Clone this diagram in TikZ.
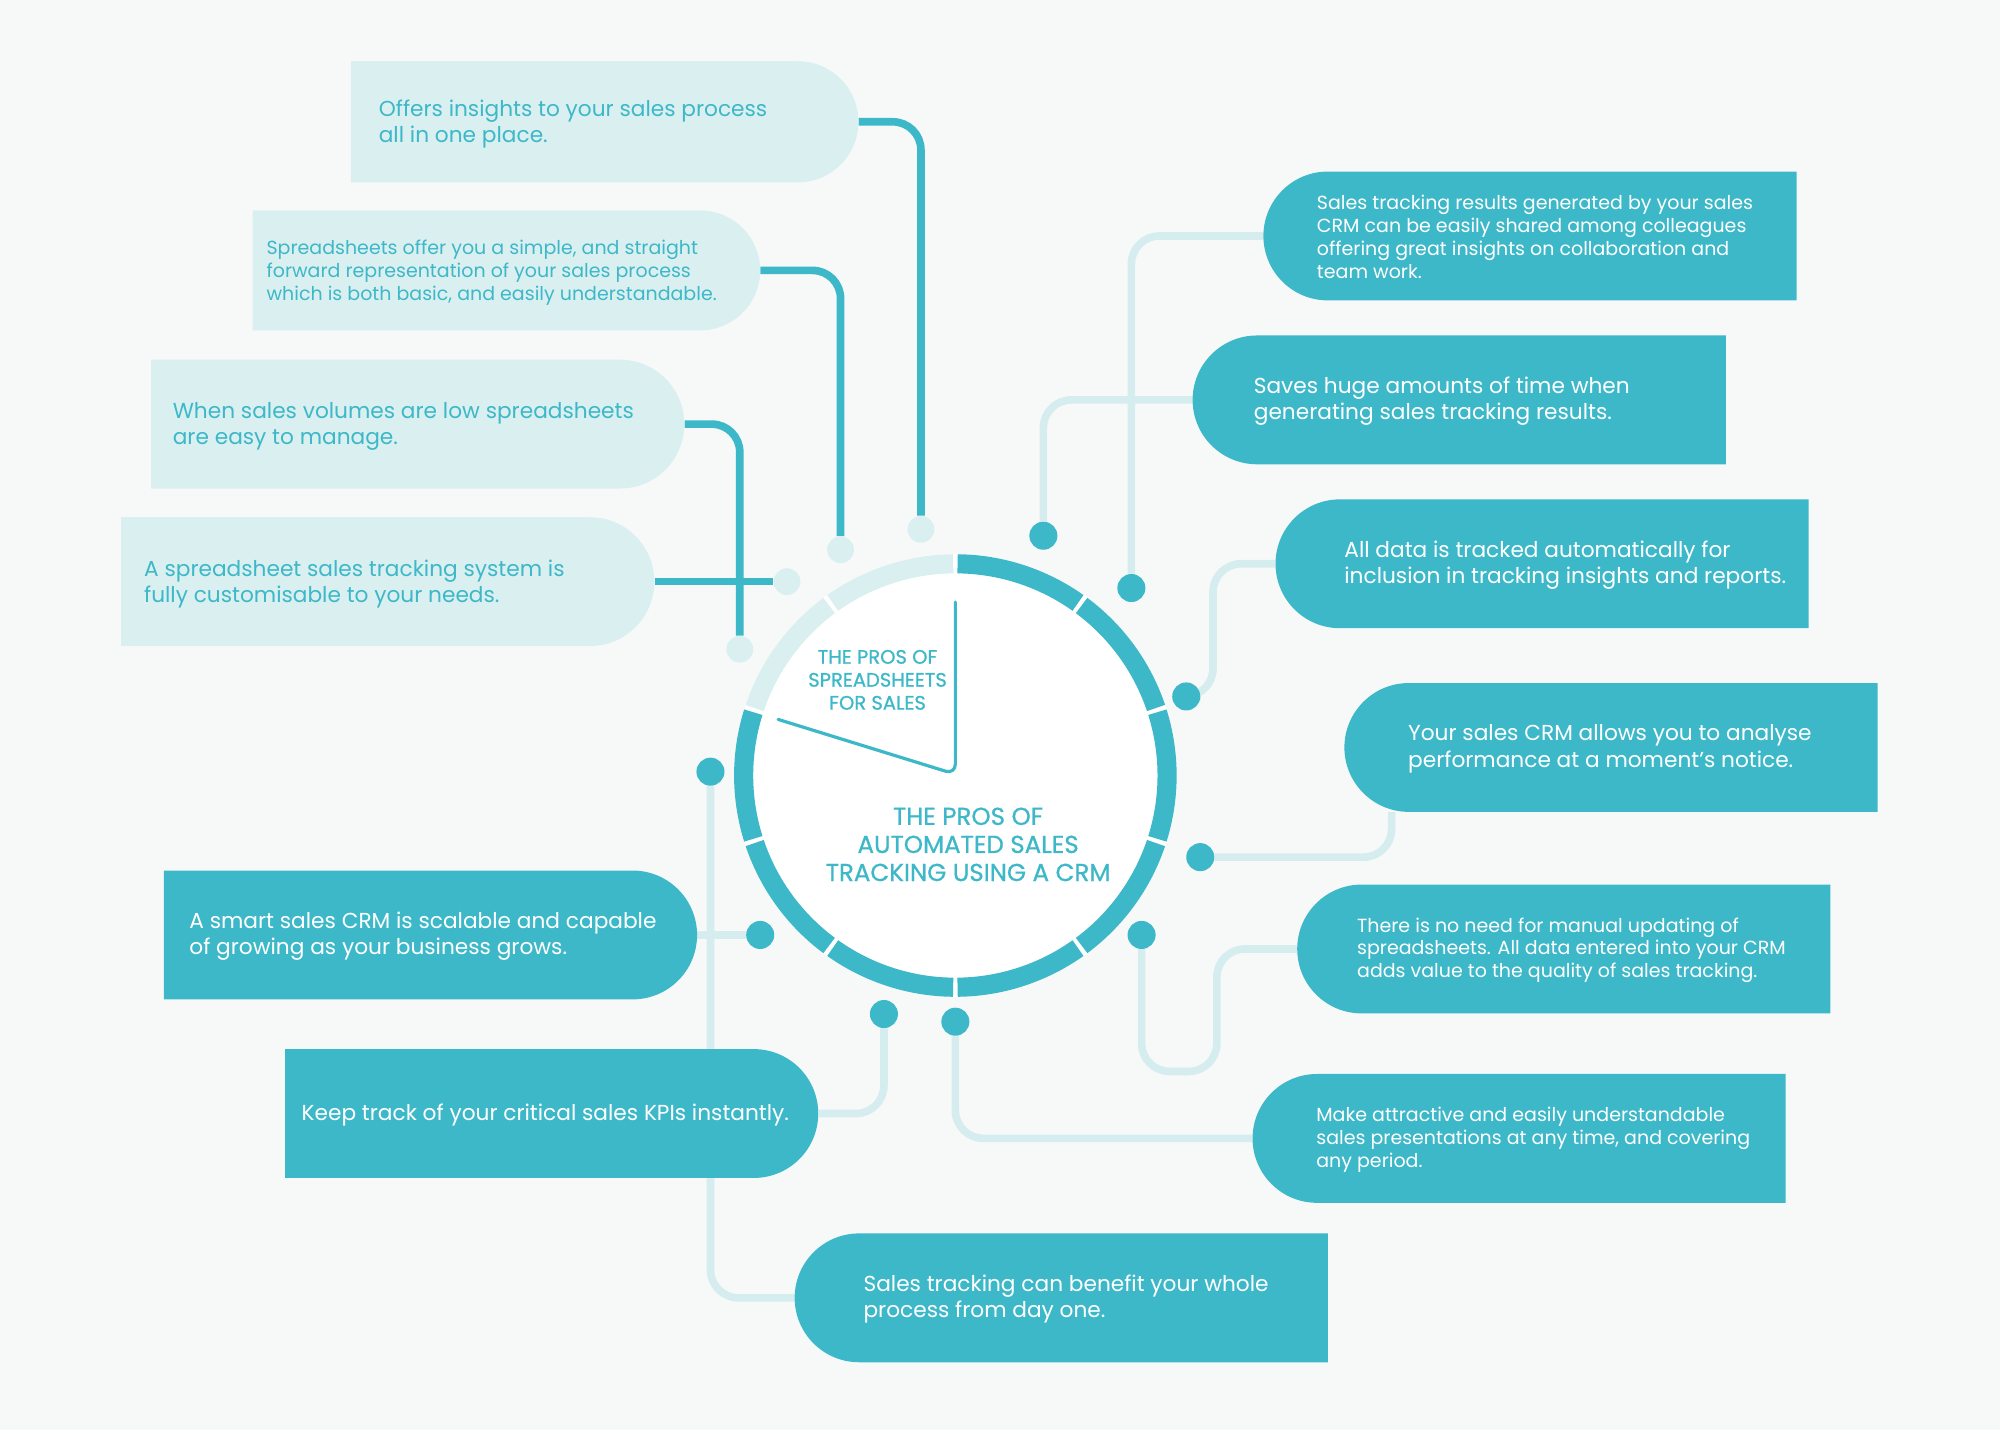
\documentclass[tikz,border=0pt]{standalone}
\usepackage{fontspec}
\setmainfont{Poppins}
\newfontfamily\hubfont[FakeBold=0.8]{Poppins}
\usetikzlibrary{calc,positioning,shapes.misc}
\definecolor{crmteal}{HTML}{3DB8C8}
\definecolor{sheetpale}{HTML}{DAEFF0}
\definecolor{linepale}{HTML}{D5EDEF}
\definecolor{pagebg}{HTML}{F7F9F9}
\pgfdeclarelayer{back}
\pgfsetlayers{back,main}
\def\ringarc[#1](#2:#3){\draw[#1] ($(hub)+({166*cos(#2)},{166*sin(#2)})$) arc (#2:#3:166);}
\tikzset{
	sheetbox/.style={rounded rectangle, rounded rectangle west arc=none, fill=sheetpale, inner sep=0pt, minimum width=418pt, minimum height=101pt},
	crmbox/.style={rounded rectangle, rounded rectangle east arc=none, fill=crmteal, inner sep=0pt, minimum width=418pt, minimum height=101pt},
	crmboxr/.style={rounded rectangle, rounded rectangle west arc=none, fill=crmteal, inner sep=0pt, minimum width=418pt, minimum height=101pt},
	sheettext/.style={anchor=west, inner sep=0pt, align=left, text=crmteal, yshift=-2pt},
	crmtext/.style={anchor=west, inner sep=0pt, align=left, text=white, yshift=-1pt},
	bigtext/.style={font=\fontsize{17}{20.5}\selectfont},
	smalltext/.style={font=\fontsize{14.9}{18}\selectfont},
	crmdot/.style={circle, fill=crmteal, inner sep=0pt, minimum size=22pt},
	sheetdot/.style={circle, fill=sheetpale, inner sep=0pt, minimum size=21pt},
	sheetlink/.style={draw=crmteal, line width=6pt, rounded corners=22pt},
	crmlink/.style={draw=linepale, line width=6pt, rounded corners=22pt},
	ring/.style={line width=15pt},
	hand/.style={draw=crmteal, line width=2.5pt, rounded corners=8pt, line cap=round},
}
\begin{document}
\begin{tikzpicture}[x=1pt, y=-1pt]
			%%%%% START %%%%%
			\node[circle, fill=white, inner sep=0pt, minimum size=347pt] (hub) at (749, 608) {};
			\foreach \a [evaluate=\a as \s using \a+0.6, evaluate=\a as \e using \a+35.4] in {18,54,90,126,162,270,306,342}
				{\ringarc[ring, draw=crmteal](\s:\e)}
			\foreach \a [evaluate=\a as \s using \a+0.6, evaluate=\a as \e using \a+35.4] in {198,234}
				{\ringarc[ring, draw=sheetpale](\s:\e)}
			
			\draw[hand] (749, 472) -- (749, 607) -- (610, 564);
			\node[align=center, inner sep=0pt, text=crmteal, font=\hubfont\fontsize{15.3}{18}\selectfont] (sheethead) at (688, 533) {THE PROS OF\\SPREADSHEETS\\FOR SALES};
			\node[align=center, inner sep=0pt, text=crmteal, font=\hubfont\fontsize{19.2}{22}\selectfont] (crmhead) at (759, 662) {THE PROS OF\\AUTOMATED SALES\\TRACKING USING A CRM};
			
			\node[sheetbox, minimum width=398pt, minimum height=95pt] (sheetOne) at (474, 95.5) {};
			\node[sheetbox, minimum width=398pt, minimum height=94pt] (sheetBasic) at (397, 212) {};
			\node[sheetbox] (sheetLow) at (327.5, 332.5) {};
			\node[sheetbox] (sheetCustom) at (304, 456) {};
			
			\node[sheettext, bigtext] at ([xshift=22pt]sheetOne.west) {Offers insights to your sales process\\all in one place.};
			\node[sheettext, smalltext] at ([xshift=11pt]sheetBasic.west) {Spreadsheets offer you a simple, and straight\\forward representation of your sales process\\which is both basic, and easily understandable.};
			\node[sheettext, bigtext] at ([xshift=17pt]sheetLow.west) {When sales volumes are low spreadsheets\\are easy to manage.};
			\node[sheettext, bigtext] at ([xshift=18pt]sheetCustom.west) {A spreadsheet sales tracking system is\\fully customisable to your needs.};
			
			\node[sheetdot] (dotOne) at (722, 415) {};
			\node[sheetdot] (dotBasic) at (659, 431) {};
			\node[sheetdot] (dotLow) at (580, 509) {};
			\node[sheetdot] (dotCustom) at (617, 456) {};
			
			\node[crmbox] (crmShare) at (1199.5, 185) {};
			\node[crmbox] (crmTime) at (1144, 313.5) {};
			\node[crmbox] (crmData) at (1209, 442) {};
			\node[crmbox] (crmAnalyse) at (1263, 586) {};
			\node[crmbox] (crmManual) at (1226, 744) {};
			\node[crmbox] (crmPresent) at (1191, 892.5) {};
			\node[crmboxr] (crmScale) at (337.5, 733) {};
			\node[crmboxr] (crmKpi) at (432.5, 873) {};
			\node[crmbox] (crmDayone) at (832, 1017.5) {};
			
			\node[crmtext, smalltext] at ([xshift=42pt]crmShare.west) {Sales tracking results generated by your sales\\CRM can be easily shared among colleagues\\offering great insights on collaboration and\\team work.};
			\node[crmtext, bigtext] at ([xshift=48pt]crmTime.west) {Saves huge amounts of time when\\generating sales tracking results.};
			\node[crmtext, bigtext] at ([xshift=54pt]crmData.west) {All data is tracked automatically for\\inclusion in tracking insights and reports.};
			\node[crmtext, bigtext] at ([xshift=50pt]crmAnalyse.west) {Your sales CRM allows you to analyse\\performance at a moment’s notice.};
			\node[crmtext, smalltext] at ([xshift=47pt]crmManual.west) {There is no need for manual updating of\\spreadsheets. All data entered into your CRM\\adds value to the quality of sales tracking.};
			\node[crmtext, smalltext] at ([xshift=50pt]crmPresent.west) {Make attractive and easily understandable\\sales presentations at any time, and covering\\any period.};
			\node[crmtext, bigtext] at ([xshift=20pt]crmScale.west) {A smart sales CRM is scalable and capable\\of growing as your business grows.};
			\node[crmtext, bigtext] at ([xshift=13pt]crmKpi.west) {Keep track of your critical sales KPIs instantly.};
			\node[crmtext, bigtext] at ([xshift=54pt]crmDayone.west) {Sales tracking can benefit your whole\\process from day one.};
			
			\node[crmdot] (dotTime) at (818, 420) {};
			\node[crmdot] (dotShare) at (887, 461) {};
			\node[crmdot] (dotData) at (930, 546) {};
			\node[crmdot] (dotAnalyse) at (941, 672) {};
			\node[crmdot] (dotManual) at (895, 733) {};
			\node[crmdot] (dotPresent) at (749, 801) {};
			\node[crmdot] (dotKpi) at (693, 795) {};
			\node[crmdot] (dotScale) at (596, 733) {};
			\node[crmdot] (dotDayone) at (557, 605) {};
			
			\coordinate (bendData) at (951, 442);
			\coordinate (bendManual) at (954, 840);
			\coordinate (bendAnalyse) at ([xshift=-172pt]crmAnalyse.south);
			
			\begin{pgfonlayer}{back}
				\fill[pagebg] (0, 0) rectangle (1568, 1121);
				\draw[sheetlink] (sheetOne.east) -| (dotOne);
				\draw[sheetlink] (sheetBasic.east) -| (dotBasic);
				\draw[sheetlink] (sheetLow.east) -| (dotLow);
				\draw[sheetlink] (sheetCustom.east) -- (dotCustom);
				
				\draw[crmlink] (dotTime) |- (crmTime.west);
				\draw[crmlink] (dotShare) |- (crmShare.west);
				\draw[crmlink] (dotData) -| (bendData) -- (crmData.west);
				\draw[crmlink] (dotAnalyse) -| (bendAnalyse);
				\draw[crmlink] (dotManual) |- (bendManual) |- (crmManual.west);
				\draw[crmlink] (dotPresent) |- (crmPresent.west);
				\draw[crmlink] (dotKpi) |- (crmKpi.east);
				\draw[crmlink] (dotScale) -- (crmScale.east);
				\draw[crmlink] (dotDayone) |- (crmDayone.west);
			\end{pgfonlayer}
			%%%%% END %%%%%
\end{tikzpicture}
\end{document}
